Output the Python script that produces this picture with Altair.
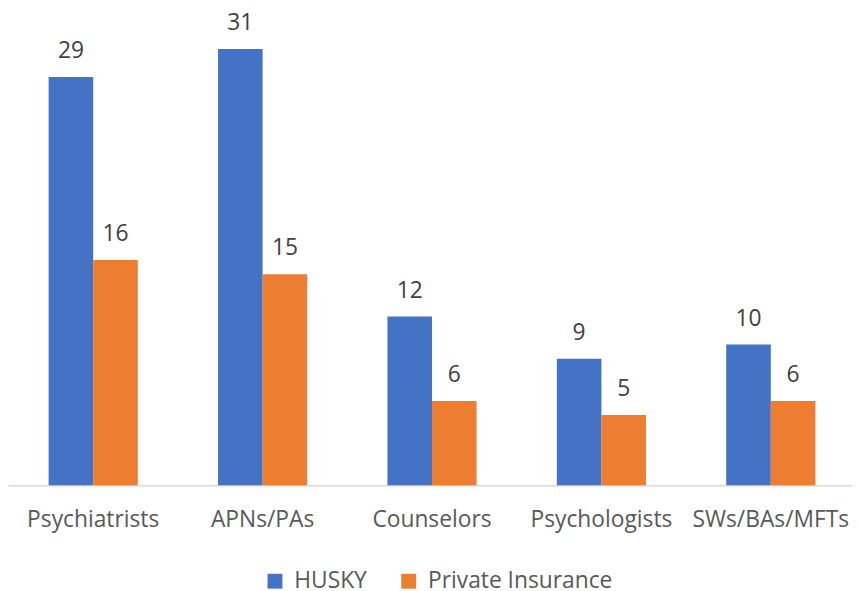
import altair as alt
import pandas as pd

categories = ["Psychiatrists", "APNs/PAs", "Counselors", "Psychologists", "SWs/BAs/MFTs"]
husky = [29, 31, 12, 9, 10]
private = [16, 15, 6, 5, 6]
series = ["HUSKY", "Private Insurance"]
colors = ["#4472C4", "#ED7D31"]

rows = []
for c, h, p in zip(categories, husky, private):
    rows.append({"cat": c, "series": series[0], "value": h})
    rows.append({"cat": c, "series": series[1], "value": p})
df = pd.DataFrame(rows)

FONT = "Open Sans"

x = alt.X("cat:N", sort=categories, title=None,
          scale=alt.Scale(paddingInner=0.4737, paddingOuter=0.228, align=0.526),
          axis=alt.Axis(labelAngle=0, labelFontSize=23, labelFont=FONT, labelColor="#595959",
                        domainColor="#d9d9d9", domainWidth=1.5, ticks=False, labelPadding=24,
                        labelLimit=300))
y = alt.Y("value:Q", scale=alt.Scale(domain=[0, 33.7], nice=False), axis=None)
xo = alt.XOffset("series:N", sort=series)
color = alt.Color("series:N", sort=series, scale=alt.Scale(domain=series, range=colors),
                  legend=alt.Legend(title=None, orient="none", legendX=258, legendY=564,
                                    direction="horizontal", symbolType="square", symbolSize=225,
                                    symbolStrokeWidth=0, labelFontSize=23, labelFont=FONT,
                                    labelColor="#595959", columnPadding=30, labelOffset=8,
                                    labelLimit=400))

base = alt.Chart(df).encode(x=x, xOffset=xo)
bars = base.mark_bar(size=45).encode(y=y, color=color)
labels = base.mark_text(dy=-19, baseline="alphabetic", fontSize=23, font=FONT, color="#404040").encode(
    y=y, text="value:Q")

chart = (bars + labels).properties(
    width=852, height=479,
    padding={"top": 0, "left": 0, "right": 0, "bottom": 130},
    autosize=alt.AutoSizeParams(type="none"),
).configure_view(stroke=None)
chart.save("out.html", embed_options={"renderer": "svg", "actions": False})
